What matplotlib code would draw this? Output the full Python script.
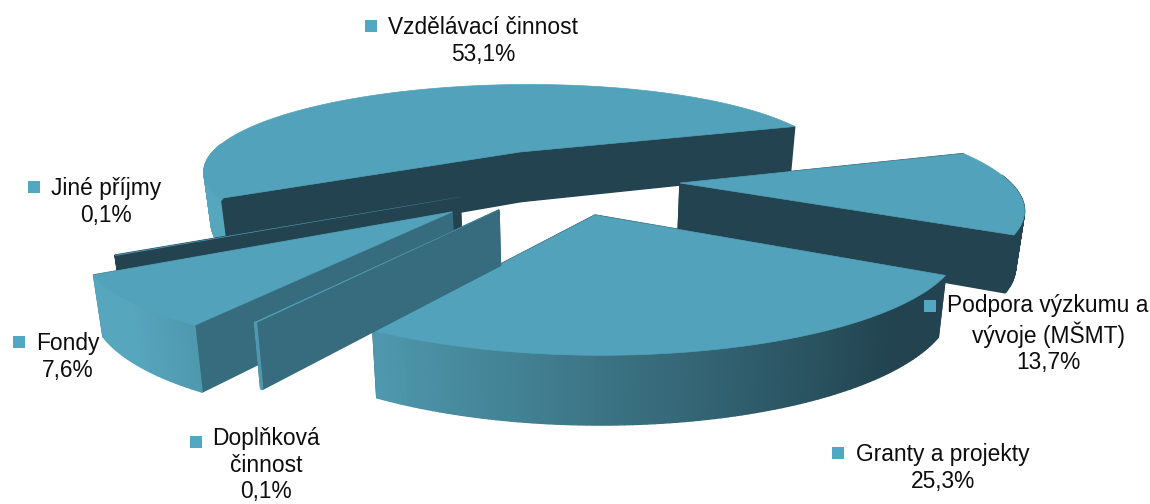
import numpy as np
import matplotlib.pyplot as plt
from matplotlib.colors import to_rgb

# Shares in percent, clockwise from the first slice
names = ["Vzdělávací činnost", "Podpora výzkumu a\nvývoje (MŠMT)", "Granty a projekty",
         "Doplňková\nčinnost", "Fondy", "Jiné příjmy"]
shares = [53.1, 13.7, 25.3, 0.1, 7.6, 0.1]
share_text = ["53,1%", "13,7%", "25,3%", "0,1%", "7,6%", "0,1%"]

# Where each exploded slice has its apex (pixels)
apex_x = [520, 680, 595, 499, 452, 460]
apex_y = [152, 183, 215, 210, 212, 197]
face_col = ["#22434f", "#22434f", "#22434f", "#366c7e", "#366c7e", "#22434f"]
flat_wall = [False, False, False, False, False, True]
draw_order = [0, 5, 1, 2, 4, 3]

# Label positions (pixels)
text_x = [483, 1048, 943, 266, 68, 106]
text_y = [41, 334, 468, 465, 357, 202]
key_x = [371, 930, 838, 196, 19, 34]
key_y = [26, 306, 453, 442, 342, 187]

top_col = "#51a2ba"
key_col = "#52a8c2"
light = np.array(to_rgb("#56a6bd"))
dark = np.array(to_rgb("#22434f"))

start_deg = 211.0
cx, cy = 575.0, 215.0
Rx, Ry = 355.0, 108.0
persp = 0.23
thick = 57.0
shrink = 0.02


def project(X, Y, d=0.0):
    w = (1 + persp * Y) * (1 + shrink * d)
    return cx + Rx * X / w, cy + (-Ry * Y + thick * d) / w


def unproject(sx, sy):
    v = (cy - sy) / Ry
    Y = v / (1 - persp * v)
    X = (sx - cx) * (1 + persp * Y) / Rx
    return X, Y


def shade(theta):
    t = np.clip((np.cos(theta) + 0.7) / 1.4, 0, 1)
    return light + (dark - light) * t


fig = plt.figure(figsize=(11.5, 5.04), dpi=100)
ax = fig.add_axes([0, 0, 1, 1])
ax.set_xlim(0, 1150)
ax.set_ylim(504, 0)
ax.axis("off")

edges = np.cumsum([0] + shares) / sum(shares) * 2 * np.pi
for i in draw_order:
    a0 = np.radians(start_deg) - edges[i]
    a1 = np.radians(start_deg) - edges[i + 1]
    th = np.linspace(a0, a1, max(4, int(abs(a1 - a0) * 60)))
    X0, Y0 = unproject(apex_x[i], apex_y[i])
    X = X0 + np.cos(th)
    Y = Y0 + np.sin(th)
    z = draw_order.index(i) * 3

    # cut faces
    for k in [0, -1]:
        xs, ys = project(np.array([X0, X[k], X[k], X0]), np.array([Y0, Y[k], Y[k], Y0]),
                         np.array([0, 0, 1, 1]))
        ax.fill(xs, ys, color=face_col[i], lw=1, zorder=2 + z)

    # outer wall, shaded strip by strip, only the part turned to the viewer
    for j in range(len(th) - 1):
        if np.sin(th[j]) > 0.08 and np.sin(th[j + 1]) > 0.08:
            continue
        px = np.array([X[j], X[j + 1], X[j + 1], X[j]])
        py = np.array([Y[j], Y[j + 1], Y[j + 1], Y[j]])
        xs, ys = project(px, py, np.array([0, 0, 1, 1]))
        c = face_col[i] if flat_wall[i] else shade(th[j])
        ax.fill(xs, ys, color=c, lw=1, zorder=3 + z)

    # top
    sx, sy = project(np.r_[X0, X], np.r_[Y0, Y])
    ax.fill(sx, sy, color=top_col, lw=0.5 if shares[i] > 1 else 0.1, zorder=4 + z)

for n, s, tx, ty, kx, ky in zip(names, share_text, text_x, text_y, key_x, key_y):
    ax.text(tx, ty, n + "\n" + s, ha="center", va="center", fontsize=16.4,
            family="Liberation Sans", color="#0d0d0d", linespacing=1.21, zorder=50)
    ax.scatter([kx], [ky], marker="s", s=87, color=key_col, lw=0, zorder=50)

fig.savefig("out.png", dpi=100)
